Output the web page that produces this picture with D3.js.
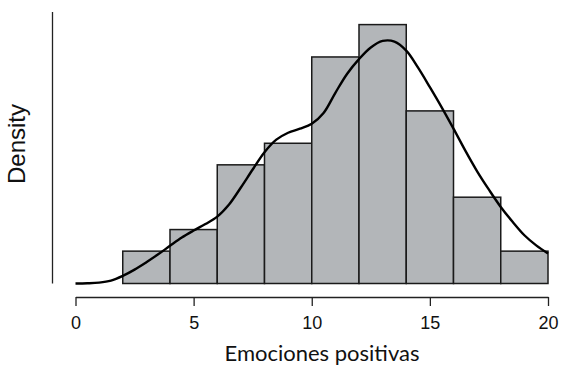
<!DOCTYPE html>
<html>
<head>
<meta charset="utf-8">
<script src="https://cdn.jsdelivr.net/npm/d3@7/dist/d3.min.js"></script>
<style>
  html, body { margin: 0; padding: 0; background: #fff; }
  svg { display: block; }
</style>
</head>
<body>
<svg id="chart" width="563" height="367"></svg>
<script>
// Histogram bins (width 2) and observation counts
const binStarts = [2, 4, 6, 8, 10, 12, 14, 16, 18];
const binCounts = [3, 5, 11, 13, 21, 24, 16, 8, 3];
const binWidth = 2;

// Kernel density estimate, sampled on the x grid
const kdeX = [0, 0.5, 1, 1.5, 2, 2.5, 3, 3.5, 4, 4.5, 5, 5.5, 6, 6.5, 7, 7.5, 8, 8.5, 9, 9.5, 10,
              10.5, 11, 11.5, 12, 12.5, 13, 13.5, 14, 14.5, 15, 15.5, 16, 16.5, 17, 17.5, 18, 18.5, 19, 19.5, 20];
const kdeY = [0.0000, 0.0001, 0.0004, 0.0013, 0.0034, 0.0062, 0.0095, 0.0130, 0.0168, 0.0205, 0.0236,
              0.0265, 0.0298, 0.0352, 0.0428, 0.0508, 0.0585, 0.0641, 0.0672, 0.0690, 0.0712,
              0.0760, 0.0850, 0.0935, 0.1000, 0.1052, 0.1081, 0.1078, 0.1038, 0.0962, 0.0875,
              0.0785, 0.0690, 0.0592, 0.0500, 0.0418, 0.0341, 0.0275, 0.0215, 0.0170, 0.0134];

const xTicks = [0, 5, 10, 15, 20];

const total = d3.sum(binCounts);
const bins = binStarts.map((s, i) => ({ x0: s, x1: s + binWidth, density: binCounts[i] / (total * binWidth) }));

const svg = d3.select("#chart");

const x = d3.scaleLinear().domain([0, 20]).range([75.5, 548]);
const y = d3.scaleLinear().domain([0, 0.121]).range([283.5, 12]);

// bars
svg.append("g")
  .selectAll("rect")
  .data(bins)
  .join("rect")
  .attr("x", d => x(d.x0))
  .attr("width", d => x(d.x1) - x(d.x0))
  .attr("y", d => y(d.density))
  .attr("height", d => y(0) - y(d.density))
  .attr("fill", "#b3b6b9")
  .attr("stroke", "#1a1a1a")
  .attr("stroke-width", 1.5);

// density curve
const line = d3.line()
  .x((d, i) => x(kdeX[i]))
  .y(d => y(d))
  .curve(d3.curveCatmullRom.alpha(0.5));

svg.append("path")
  .datum(kdeY)
  .attr("d", line)
  .attr("fill", "none")
  .attr("stroke", "#000")
  .attr("stroke-width", 2.4);

// y axis: bare line, no ticks
svg.append("line")
  .attr("x1", 52.5).attr("x2", 52.5)
  .attr("y1", y(0)).attr("y2", y(0.121))
  .attr("stroke", "#222")
  .attr("stroke-width", 1.3);

// x axis
const xAxis = svg.append("g")
  .attr("transform", "translate(0,297)")
  .call(d3.axisBottom(x).tickValues(xTicks).tickSize(9).tickPadding(10).tickSizeOuter(0));
xAxis.select(".domain").attr("stroke", "#222").attr("stroke-width", 1.3);
xAxis.selectAll(".tick line").attr("stroke", "#222").attr("stroke-width", 1.3);
xAxis.selectAll(".tick text")
  .attr("fill", "#111")
  .style("font-family", "'Liberation Sans', Arial, sans-serif")
  .style("font-size", "18px");

// axis titles
svg.append("text")
  .attr("transform", "translate(25,144) rotate(-90)")
  .attr("text-anchor", "middle")
  .style("font-family", "'Liberation Sans', Arial, sans-serif")
  .style("font-size", "24px")
  .attr("fill", "#111")
  .text("Density");

svg.append("text")
  .attr("x", 322)
  .attr("y", 361)
  .attr("text-anchor", "middle")
  .style("font-family", "Lato, 'Open Sans', sans-serif")
  .style("font-size", "22px")
  .attr("fill", "#111")
  .text("Emociones positivas");
</script>
</body>
</html>
